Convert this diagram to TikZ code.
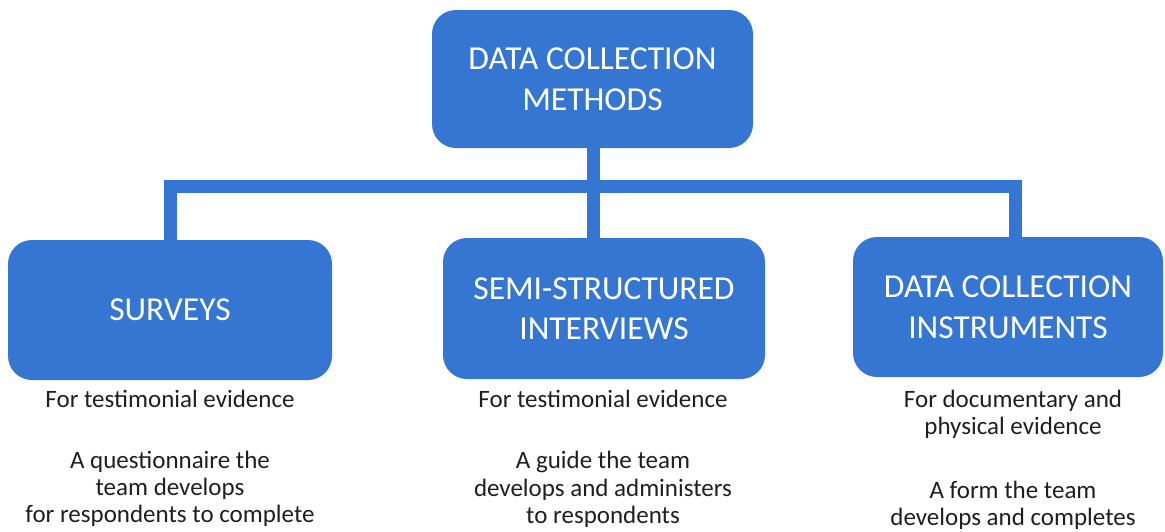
\documentclass[tikz,border=0pt]{standalone}
\usepackage{fontspec}
\setmainfont{Carlito}
\usetikzlibrary{backgrounds}
\definecolor{boxblue}{RGB}{52,118,210}
\begin{document}
\begin{tikzpicture}[x=1pt,y=-1pt,
  bluebox/.style={fill=boxblue, draw=none, rounded corners=24pt, text=white,
    align=center, font=\fontsize{33.5}{40.5}\selectfont, inner sep=0pt},
  conn/.style={draw=boxblue, line width=13pt, line join=miter},
  desc/.style={align=center, font=\fontsize{25}{27}\selectfont, inner sep=0pt, anchor=base, text=black!88}]
\useasboundingbox (0,0) rectangle (1165,531);
\node[bluebox, minimum width=321pt, minimum height=138pt] (top) at (592.5,79) {DATA COLLECTION\\METHODS};
\node[bluebox, minimum width=324pt, minimum height=140pt] (left) at (170,310) {SURVEYS};
\node[bluebox, minimum width=322pt, minimum height=141pt] (mid) at (604,308.5) {SEMI-STRUCTURED\\INTERVIEWS};
\node[bluebox, minimum width=310pt, minimum height=140pt] (right) at (1008,307) {DATA COLLECTION\\INSTRUMENTS};
\coordinate (bar) at (593,186.5);
\begin{pgfonlayer}{background}
\draw[conn] ([xshift=0.5pt]top.south) -- ([xshift=0.5pt]top.south |- mid.north);
\draw[conn] (left.north) |- (bar) -| ([xshift=7pt]right.north);
\end{pgfonlayer}
% descriptions
\node[desc] (l1) at (170,407) {For testimonial evidence};
\node[desc] (l2) at (170,468) {A questionnaire the};
\node[desc] (l3) at (170,495) {team develops};
\node[desc] (l4) at (170,522) {for respondents to complete};
\node[desc] (m1) at (603,407) {For testimonial evidence};
\node[desc] (m2) at (603,468) {A guide the team};
\node[desc] (m3) at (603,496) {develops and administers};
\node[desc] (m4) at (603,523) {to respondents};
\node[desc] (r1) at (1013,407) {For documentary and};
\node[desc] (r2) at (1013,434) {physical evidence};
\node[desc] (r3) at (1013,498) {A form the team};
\node[desc] (r4) at (1013,525) {develops and completes};
\end{tikzpicture}
\end{document}
